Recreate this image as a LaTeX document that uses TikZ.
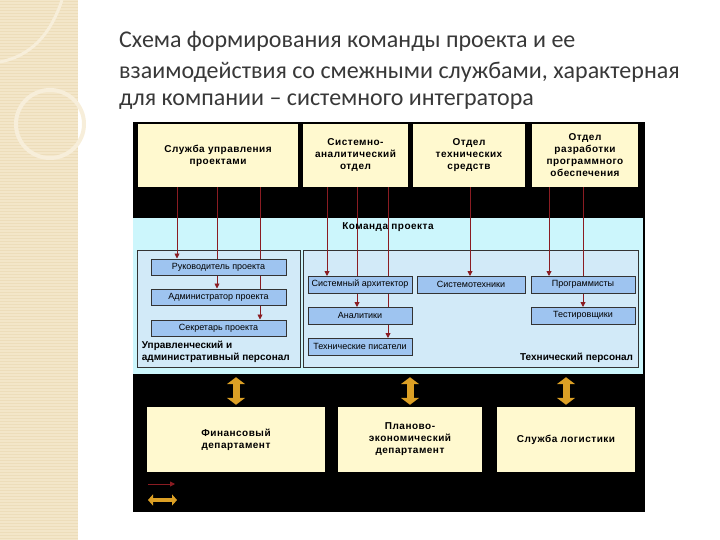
\documentclass[tikz,border=0pt]{standalone}
\usepackage{fontspec}
\setmainfont{Liberation Sans}
\newfontfamily\titlefont{Carlito}
\newfontfamily\widefont{Liberation Sans}[LetterSpace=5]
\usetikzlibrary{arrows.meta, positioning, calc}
\definecolor{sideBeige}{HTML}{F3E6C9}
\definecolor{sideLine}{HTML}{EDDDBA}
\definecolor{sideLight}{HTML}{F7EEDA}
\definecolor{titleGray}{HTML}{383838}
\definecolor{deptFill}{HTML}{FFF9CF}
\definecolor{teamCyan}{HTML}{CCF6FC}
\definecolor{panelBlue}{HTML}{D2EAF8}
\definecolor{roleBlue}{HTML}{9EC4F0}
\definecolor{linkRed}{HTML}{8A1C22}
\definecolor{tieGold}{HTML}{DCA025}
\pgfdeclarelayer{background}
\pgfdeclarelayer{links}
\pgfsetlayers{background,links,main}

\begin{document}
\begin{tikzpicture}[x=1pt, y=-1pt,
    titletext/.style={font=\titlefont\fontsize{24}{29}\selectfont, text=titleGray,
                 anchor=base west, inner sep=0pt},
    dept/.style={rectangle, fill=deptFill, align=center, inner sep=2pt,
                 font=\widefont\bfseries\fontsize{10}{12}\selectfont},
    panel/.style={rectangle, draw=black!80, fill=panelBlue, line width=0.6pt},
    role/.style={rectangle, draw=black!80, fill=roleBlue, line width=0.5pt,
                 minimum height=16.5pt, inner sep=0pt,
                 font=\fontsize{9}{10}\selectfont},
    caption/.style={font=\bfseries\fontsize{10}{12}\selectfont, align=left, inner sep=0pt},
    link/.style={draw=linkRed, line width=0.9pt, -{Triangle[length=5pt,width=5pt]}},
    tie/.style={draw=tieGold, line width=7pt,
                {Triangle[length=7pt,width=18pt]}-{Triangle[length=7pt,width=18pt]}},
  ]
    \useasboundingbox (0,0) rectangle (720,540);

    % side strip
    \fill[sideBeige] (0,0) rectangle (78,540);
    \foreach \yy in {1,4,...,540}
      \draw[sideLine, line width=0.5pt] (0,\yy) -- (78,\yy);
    \draw[sideLight, line width=4pt] (50,124) circle (34pt);
    \draw[sideLight, line width=3pt] (62,0) .. controls (50,36) and (30,56) .. (0,62);

    % title
    \node[titletext] (t1) at (119,48) {Схема формирования команды проекта и ее};
    \node[titletext] (t2) at (119,79) {взаимодействия со смежными службами, характерная};
    \node[titletext] (t3) at (119,106) {для компании – системного интегратора};

    % black base, team area and the two staff panels
    \begin{pgfonlayer}{background}
      \fill[black] (133,122) rectangle (645,512);
      \node[rectangle, fill=teamCyan, minimum width=510pt, minimum height=156pt,
            inner sep=0pt] (team) at (388,296) {};
      \node[panel, minimum width=163pt, minimum height=117pt] (upr) at (218.5,308.5) {};
      \node[panel, minimum width=335pt, minimum height=117pt] (teh) at (470.5,308.5) {};
    \end{pgfonlayer}

    % departments
    \node[dept, minimum width=160pt, minimum height=63pt] (sup) at (218,155.5)
      {Служба управления\\проектами};
    \node[dept, minimum width=105pt, minimum height=63pt] (sad) at (355.5,155.5)
      {Системно-\\аналитический\\отдел};
    \node[dept, minimum width=112pt, minimum height=63pt] (ots) at (469,155.5)
      {Отдел\\технических\\средств};
    \node[dept, minimum width=106pt, minimum height=63pt] (orpo) at (585,155.5)
      {Отдел\\разработки\\программного\\обеспечения};

    \node[caption] (tlabel) at (388,227) {\widefont\bfseries Команда проекта};

    % roles
    \node[role, minimum width=135pt] (ruk) at (218.5,267) {Руководитель проекта};
    \node[role, minimum width=135pt] (adm) at (218.5,297) {Администратор проекта};
    \node[role, minimum width=135pt] (sek) at (218.5,328) {Секретарь проекта};
    \node[role, minimum width=104pt] (arh) at (360,284.5) {Системный архитектор};
    \node[role, minimum width=104pt] (anl) at (360,315.5) {Аналитики};
    \node[role, minimum width=104pt] (pis) at (360,346.5) {Технические писатели};
    \node[role, minimum width=108pt] (stx) at (471,284.5) {Системотехники};
    \node[role, minimum width=104pt] (prg) at (583,284.5) {Программисты};
    \node[role, minimum width=104pt] (tst) at (583,315.5) {Тестировщики};

    \node[caption, anchor=south west] (uprlabel) at ([xshift=5pt,yshift=5pt]upr.south west)
      {Управленческий и\\административный персонал};
    \node[caption, anchor=south east] (tehlabel) at ([xshift=-5pt,yshift=5pt]teh.south east)
      {Технический персонал};

    % links from departments to roles
    \coordinate (x1) at (177,0);
    \coordinate (x2) at (217,0);
    \coordinate (x3) at (260,0);
    \coordinate (x4) at (327,0);
    \coordinate (x5) at (357,0);
    \coordinate (x6) at (388,0);
    \coordinate (x7) at (470,0);
    \coordinate (x8) at (549,0);
    \coordinate (x9) at (583,0);
    \begin{pgfonlayer}{links}
      \draw[link] (sup.south -| x1) -- (ruk.north -| x1);
      \draw[link] (sup.south -| x2) -- (adm.north -| x2);
      \draw[link] (sup.south -| x3) -- (sek.north -| x3);
      \draw[link] (sad.south -| x4) -- (arh.north -| x4);
      \draw[link] (sad.south -| x5) -- (anl.north -| x5);
      \draw[link] (sad.south -| x6) -- (pis.north -| x6);
      \draw[link] (ots.south -| x7) -- (stx.north -| x7);
      \draw[link] (orpo.south -| x8) -- (prg.north -| x8);
      \draw[link] (orpo.south -| x9) -- (tst.north -| x9);
    \end{pgfonlayer}

    % adjacent services
    \node[dept, minimum width=178pt, minimum height=65pt] (fin) at (236,439.5)
      {Финансовый\\департамент};
    \node[dept, minimum width=144pt, minimum height=65pt] (pln) at (410,439.5)
      {Планово-\\экономический\\департамент};
    \node[dept, minimum width=138pt, minimum height=65pt] (lgs) at (566,439.5)
      {Служба логистики};

    \draw[tie] ([yshift=-3pt]team.south -| fin.north) -- ([yshift=2pt]fin.north);
    \draw[tie] ([yshift=-3pt]team.south -| pln.north) -- ([yshift=2pt]pln.north);
    \draw[tie] ([yshift=-3pt]team.south -| lgs.north) -- ([yshift=2pt]lgs.north);

    % legend
    \coordinate (lg1) at (148,484);
    \coordinate (lg2) at (175,484);
    \coordinate (lg3) at (148,500);
    \coordinate (lg4) at (177,500);
    \draw[link] (lg1) -- (lg2);
    \draw[tie, line width=4pt,
          {Triangle[length=5pt,width=11pt]}-{Triangle[length=5pt,width=11pt]}] (lg3) -- (lg4);
  \end{tikzpicture}
\end{document}
